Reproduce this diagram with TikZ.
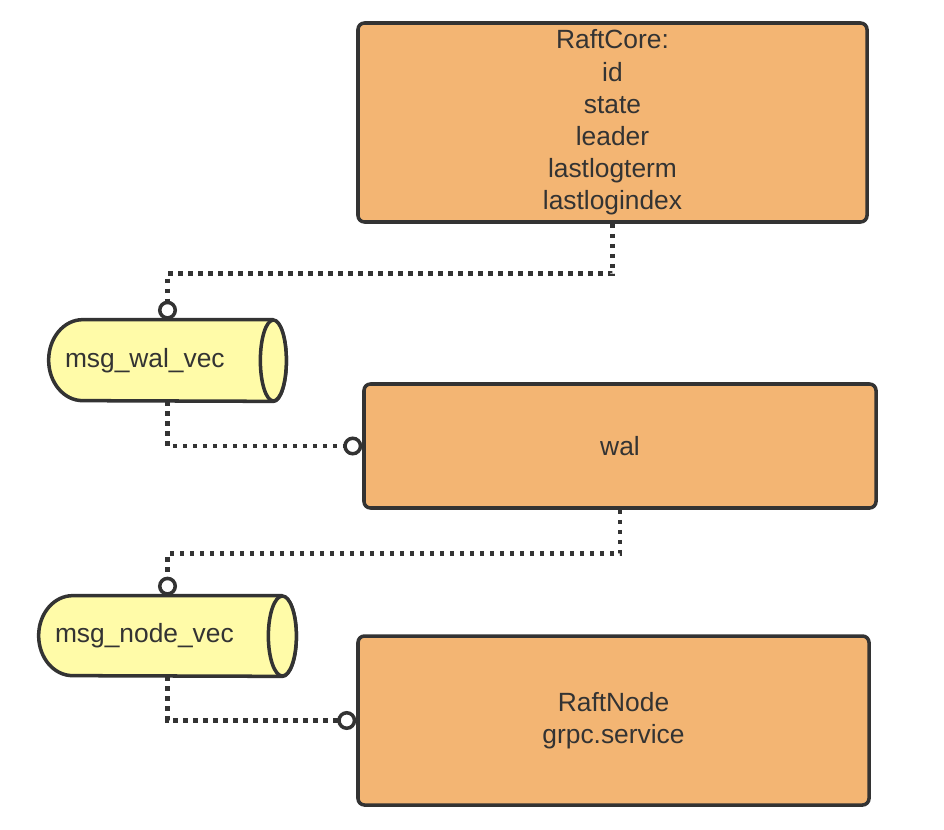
\documentclass[tikz,border=0pt]{standalone}
\usepackage{fontspec}
\setmainfont{Liberation Sans}
\usetikzlibrary{arrows.meta, calc, backgrounds}
\definecolor{boxorange}{HTML}{F3B573}
\definecolor{vecyellow}{HTML}{FFFBA8}
\definecolor{inkgray}{HTML}{333333}

\begin{document}
\begin{tikzpicture}[
        block/.style={rectangle, draw=inkgray, line width=2pt, rounded corners=0.13cm, fill=boxorange, align=center, text=inkgray, font=\fontsize{15}{18.3}\selectfont},
        vec/.style={rectangle, inner sep=0pt, inner xsep=0.32cm, align=left, text=inkgray, font=\fontsize{15}{18.3}\selectfont},
        vecline/.style={draw=inkgray, line width=2pt, line join=round, fill=vecyellow},
        link/.style={draw=inkgray, line width=2.6pt, dash pattern=on 0.09cm off 0.11cm, -{Circle[open, fill=white, length=0.38cm, line width=2pt]}}
        ]
        \useasboundingbox (0,0) rectangle (18.88,-16.6);

        % Nodes
        \node (core) [block, minimum width=10.18cm, minimum height=3.98cm] at (12.25,-2.45) {RaftCore:\\id\\state\\leader\\lastlogterm\\lastlogindex};
        \node (walvec) [vec, text width=4.1cm, minimum height=1.62cm] at (3.35,-7.21) {msg\_wal\_vec};
        \node (wal) [block, minimum width=10.24cm, minimum height=2.48cm] at (12.4,-8.92) {wal};
        \node (nodevec) [vec, text width=4.5cm, minimum height=1.6cm] at (3.35,-12.72) {msg\_node\_vec};
        \node (raftnode) [block, minimum width=10.22cm, minimum height=3.38cm] at (12.27,-14.41) {RaftNode\\grpc.service};

        % Cylinders behind the vec labels
        \begin{scope}[on background layer]
        \draw[vecline] ($(walvec.north east)+(-0.26,0)$) -- ($(walvec.north west)+(0.68,0)$) arc[start angle=90, end angle=270, x radius=0.68, y radius=0.81] -- ($(walvec.south east)+(-0.26,0)$) arc[start angle=-90, end angle=90, x radius=0.26, y radius=0.81] -- cycle;
        \draw[vecline] ($(walvec.east)+(-0.26,0)$) ellipse[x radius=0.26, y radius=0.81];
        \draw[vecline] ($(nodevec.north east)+(-0.28,0)$) -- ($(nodevec.north west)+(0.68,0)$) arc[start angle=90, end angle=270, x radius=0.68, y radius=0.8] -- ($(nodevec.south east)+(-0.28,0)$) arc[start angle=-90, end angle=90, x radius=0.28, y radius=0.8] -- cycle;
        \draw[vecline] ($(nodevec.east)+(-0.28,0)$) ellipse[x radius=0.28, y radius=0.8];
        \end{scope}

        % Links
        \draw [link] (core.south) -- ++(0,-1) -| (walvec.north);
        \draw [link] (walvec.south) |- (wal.west);
        \draw [link] (wal.south) -- ++(0,-0.88) -| (nodevec.north);
        \draw [link] (nodevec.south) |- (raftnode.west);

    \end{tikzpicture}
\end{document}
